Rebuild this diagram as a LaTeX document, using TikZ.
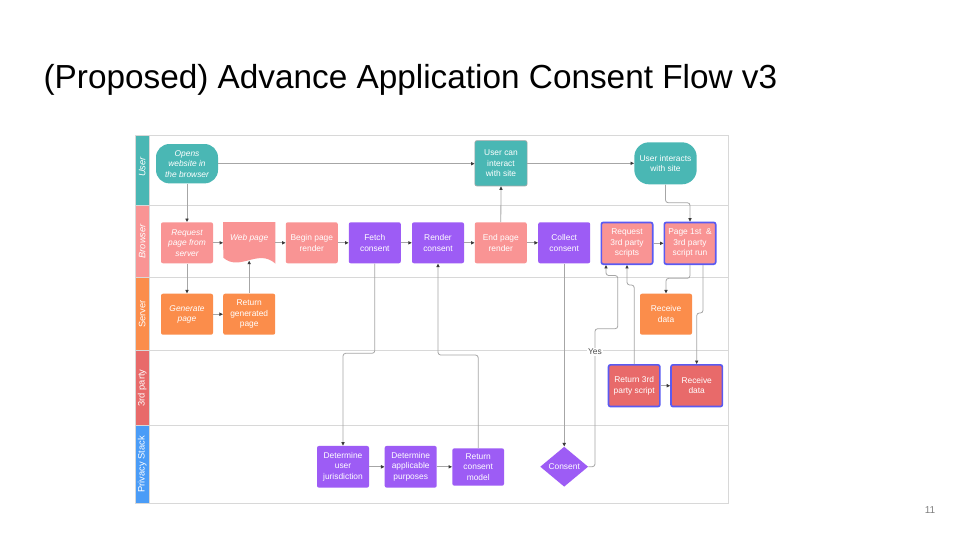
\documentclass[tikz,border=0pt]{standalone}
\usepackage{fontspec}
\setmainfont{Liberation Sans}
\usetikzlibrary{shapes.geometric,arrows.meta,calc}
\definecolor{cteal}{HTML}{4AB7B4}
\definecolor{cpink}{HTML}{F99494}
\definecolor{corange}{HTML}{FB8D4B}
\definecolor{cpurple}{HTML}{9D5CF5}
\definecolor{cred}{HTML}{E86A6A}
\definecolor{cblue}{HTML}{5A5AF2}
\definecolor{cpriv}{HTML}{4A9CF7}
\definecolor{lanegray}{HTML}{D8D8D8}
\definecolor{linegray}{HTML}{A6A6A6}
\definecolor{arrowc}{HTML}{3A3A3A}
\newcommand\nfont{\fontsize{6.3}{7.9}\selectfont}
\newcommand\lfont{\fontsize{7}{8}\selectfont}
\begin{document}
\begin{tikzpicture}[x=0.75pt,y=-0.75pt,
  box/.style={rectangle, rounded corners=1.5pt, minimum width=39pt, minimum height=30.75pt,
    inner sep=0pt, align=center, text=white, font=\nfont},
  bluebox/.style={box, draw=cblue, line width=1.25pt, minimum width=38.5pt, minimum height=31.3pt},
  pill/.style={box, rounded corners=10pt},
  conn/.style={draw=linegray, line width=0.6pt, rounded corners=2pt,
    -{Triangle[length=2.6pt,width=2.4pt,color=arrowc]}},
  lanelbl/.style={rotate=90, text=white, font=\lfont, inner sep=0pt},
  lanesep/.style={draw=lanegray, line width=0.7pt}
]
\useasboundingbox (0,0) rectangle (960,540);
\fill[white] (0,0) rectangle (960,540);

% title
\node[anchor=base west, inner sep=0pt, font=\fontsize{25}{30}\selectfont] (title) at (43.3,88.3)
  {(Proposed) Advance Application Consent Flow v3};
\node[text=gray, font=\fontsize{7.5}{9}\selectfont, inner sep=0pt] (pnum) at (930,510) {11};

% lanes
\fill[cteal]   (135,135)   rectangle (149.3,205);
\fill[cpink]   (135,205)   rectangle (149.3,277.7);
\fill[corange] (135,277.7) rectangle (149.3,350.5);
\fill[cred]    (135,350.5) rectangle (149.3,425.3);
\fill[cpriv]   (135,425.3) rectangle (149.3,503.3);
\draw[lanesep] (135,205) -- (728.3,205);
\draw[lanesep] (135,277.7) -- (728.3,277.7);
\draw[lanesep] (135,350.5) -- (728.3,350.5);
\draw[lanesep] (135,425.3) -- (728.3,425.3);
\draw[lanesep] (135,135) rectangle (728.3,503.3);
\draw[lanesep] (149.3,135) -- (149.3,503.3);
\node[lanelbl, font=\lfont\itshape] (lUser) at (142.2,167) {User};
\node[lanelbl, font=\lfont\itshape] (lBrowser) at (142.2,241.3) {Browser};
\node[lanelbl] (lServer) at (142.2,314) {Server};
\node[lanelbl] (lThird) at (142.2,388) {3rd party};
\node[lanelbl] (lPriv) at (142.2,464.3) {Privacy Stack};

% user lane
\node[pill, fill=cteal, minimum width=46.5pt, minimum height=29.5pt, font=\nfont\itshape] (opens) at (187,163.7) {Opens\\website in\\the browser};
\node[box, fill=cteal, draw=gray!70, line width=0.5pt, minimum width=39.2pt, minimum height=34pt] (canint) at (501,163.3) {User can\\interact\\with site};
\node[pill, fill=cteal, rounded corners=11pt, minimum width=46.8pt, minimum height=31.5pt] (interacts) at (665.5,163.3) {User interacts\\with site};

% browser lane
\node[box, fill=cpink, font=\nfont\itshape] (req) at (187,242.8) {Request\\page from\\server};
\node[box, minimum width=38.8pt, minimum height=30.75pt] (web) at (249.2,242.8) {};
\fill[cpink] (web.north west) -- (web.north east) -- (web.south east)
  .. controls (258,248) and (240,272) .. (223.3,257.7) -- cycle;
\node[text=white, font=\nfont\itshape, inner sep=0pt] (webtxt) at (249.2,238.3) {Web page};
\node[box, fill=cpink] (begin) at (311.8,242.8) {Begin page\\render};
\node[box, fill=cpurple] (fetch) at (374.8,242.8) {Fetch\\consent};
\node[box, fill=cpurple] (render) at (438,242.8) {Render\\consent};
\node[box, fill=cpink] (endr) at (500.8,242.8) {End page\\render};
\node[box, fill=cpurple] (collect) at (564.2,242.8) {Collect\\consent};
\node[bluebox, fill=cpink] (reqs) at (627,243.3) {Request\\3rd party\\scripts};
\node[bluebox, fill=cpink] (pagerun) at (690,243.3) {Page 1st~~\&\\3rd party\\script run};

% server lane
\node[box, fill=corange, font=\nfont\itshape] (gen) at (187,314.2) {Generate\\page};
\node[box, fill=corange] (retgen) at (249.2,314.2) {Return\\generated\\page};
\node[box, fill=corange] (recvS) at (666,314.2) {Receive\\data};

% 3rd party lane
\node[bluebox, fill=cred] (ret3) at (634.2,385.7) {Return 3rd\\party script};
\node[bluebox, fill=cred] (recv3) at (696.7,385.7) {Receive\\data};

% privacy stack lane
\node[box, fill=cpurple, minimum height=31.3pt] (detjur) at (343,466.8) {Determine\\user\\jurisdiction};
\node[box, fill=cpurple, minimum height=31.3pt] (detapp) at (410.7,466.8) {Determine\\applicable\\purposes};
\node[box, fill=cpurple, minimum width=38.8pt, minimum height=28pt] (retmodel) at (478.2,467) {Return\\consent\\model};
\node[diamond, fill=cpurple, text=white, font=\nfont, minimum width=36pt, minimum height=30pt, inner sep=0pt, aspect=1.2] (consent) at (564.2,466.7) {Consent};

% connectors
\draw[conn] (opens.south) -- (req.north);
\draw[conn] (opens.east) -- (opens.east -| canint.west);
\draw[conn] (canint.east) -- (canint.east -| interacts.west);
\draw[conn] (req.east) -- (web.west);
\draw[conn] (web.east) -- (begin.west);
\draw[conn] (begin.east) -- (fetch.west);
\draw[conn] (fetch.east) -- (render.west);
\draw[conn] (render.east) -- (endr.west);
\draw[conn] (endr.east) -- (collect.west);
\draw[conn] (reqs.east) -- (pagerun.west);
\draw[conn] (req.south) -- (gen.north);
\draw[conn] (gen.east) -- (retgen.west);
\draw[conn] (retgen.north) -- ($(web.south)+(0,-2.8)$);
\draw[conn] (endr.north) -- (canint.south);
\draw[conn] (interacts.south) |- (pagerun.north |- 0,202.7) -- (pagerun.north);
\draw[conn] (fetch.south) |- (detjur.north |- 0,353.3) -- (detjur.north);
\draw[conn] (detjur.east) -- (detapp.west);
\draw[conn] (detapp.east) -- (detapp.east -| retmodel.west);
\draw[conn] (retmodel.north) |- (render.south |- 0,355) -- (render.south);
\draw[conn] (collect.south) -- (consent.north);
\draw[conn] (consent.east) -| (595,328.7) -| (617.8,275.5) -| (606,0 |- reqs.south);
\draw[conn] (ret3.north) |- (reqs.south |- 0,285) -- (reqs.south);
\draw[conn] (pagerun.south) |- (recvS.north |- 0,278.3) -- (recvS.north);
\draw[conn] (703,0 |- pagerun.south) |- (recv3.north |- 0,313) -- (recv3.north);
\draw[conn] (ret3.east) -- (recv3.west);
\node[fill=white, text=black!70, font=\nfont, inner sep=0.6pt] (yes) at (595,352) {Yes};
\end{tikzpicture}
\end{document}
